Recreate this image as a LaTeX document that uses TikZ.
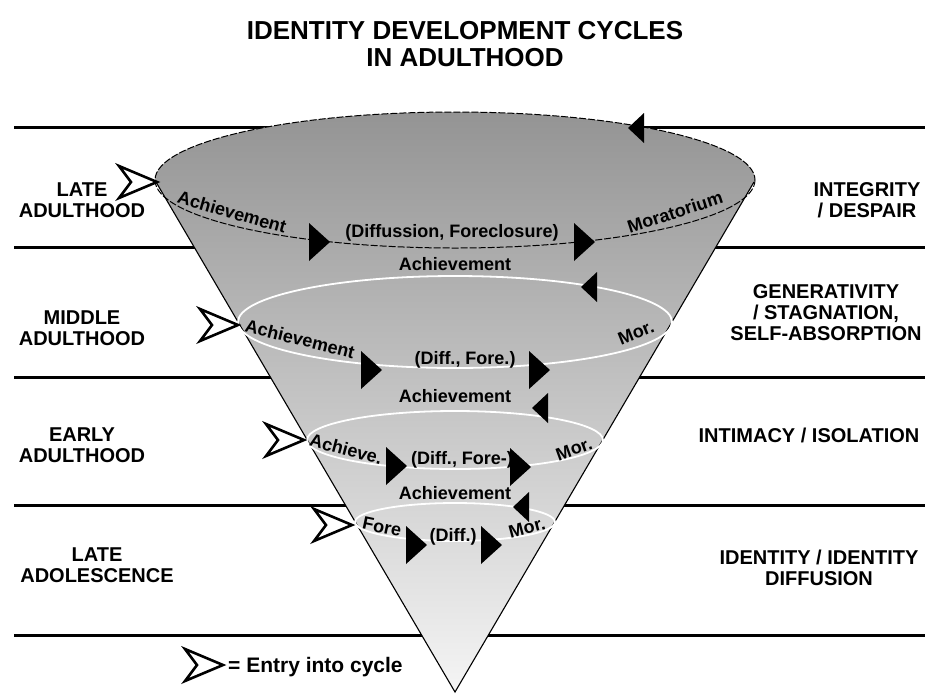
\documentclass[tikz,border=0pt]{standalone}
\usepackage{fontspec}
\setmainfont{Liberation Sans}
\begin{document}
\begin{tikzpicture}[x=1pt,y=-1pt,
  stage/.style={font=\fontsize{20}{21}\selectfont\bfseries, align=center, inner sep=0pt},
  small/.style={font=\fontsize{18}{20}\selectfont\bfseries, inner sep=0pt},
  band/.style={line width=3pt},
  ring/.style={white, line width=1.8pt},
  fwdarrow/.pic={\fill[black] (0,0) -- (-21,-19) -- (-21,19) -- cycle;},
  bwdarrow/.pic={\fill[black] (0,0) -- (16,-15) -- (16,15) -- cycle;},
  entryarrow/.pic={\draw[line width=2.6pt, fill=white, line join=miter] (0,0) -- (-38,-16) -- (-26,0) -- (-38,16) -- cycle;}
]
\useasboundingbox[fill=white] (0,0) rectangle (928,694);

% title
\node[font=\fontsize{26}{27}\selectfont\bfseries, align=center, inner sep=0pt] (title) at (465,44) {IDENTITY DEVELOPMENT CYCLES\\IN ADULTHOOD};

% horizontal bands
\foreach \yy in {127,247,377,505,635} \draw[band] (14,\yy) -- (925,\yy);

% cone
\shade[top color=black!42, bottom color=black!4] (155,180) -- (455,692) -- (755,180) arc[start angle=0, end angle=-180, x radius=300, y radius=68] -- cycle;
\draw[line width=1.1pt] (156,182) -- (455,692) -- (754,182);
\draw[dash pattern=on 7pt off 2pt, line width=1pt] (455,180) ellipse [x radius=300, y radius=68];

% inner cycles
\draw[ring] (455,322) ellipse [x radius=217, y radius=46];
\draw[ring] (455,440) ellipse [x radius=148, y radius=29];
\draw[ring] (455,522) ellipse [x radius=100, y radius=19];

% arrows
\pic at (628,128) {bwdarrow};
\pic at (330,242) {fwdarrow};
\pic at (595,242) {fwdarrow};
\pic at (581,287) {bwdarrow};
\pic at (382,370) {fwdarrow};
\pic at (550,370) {fwdarrow};
\pic at (532,408) {bwdarrow};
\pic at (407,466) {fwdarrow};
\pic at (531,467) {fwdarrow};
\pic at (513,507) {bwdarrow};
\pic at (427,545) {fwdarrow};
\pic at (502,545) {fwdarrow};

% entry arrows
\pic at (157,182) {entryarrow};
\pic at (238,325) {entryarrow};
\pic at (304,440) {entryarrow};
\pic at (352,525) {entryarrow};
\pic at (223,665) {entryarrow};

% cone labels
\node[small, rotate=-16] (a1) at (232,212) {Achievement};
\node[small] (d1) at (452,233) {(Diffussion, Foreclosure)};
\node[small, rotate=18] (m1) at (675,212) {Moratorium};
\node[small] (a1b) at (455,264) {Achievement};
\node[small, rotate=-14] (a2) at (300,339) {Achievement};
\node[small] (d2) at (465,360) {(Diff., Fore.)};
\node[small, rotate=22] (m2) at (636,333) {Mor.};
\node[small] (a2b) at (455,396) {Achievement};
\node[small, rotate=-15] (a3) at (346,449) {Achieve.};
\node[small] (d3) at (462,460) {(Diff., Fore-)};
\node[small, rotate=20] (m3) at (574,449) {Mor.};
\node[small] (a3b) at (455,493) {Achievement};
\node[small, rotate=-12] (f4) at (382,527) {Fore};
\node[small] (d4) at (453,537) {(Diff.)};
\node[small, rotate=15] (m4) at (527,528) {Mor.};

% stage labels
\node[stage] (s1) at (82,200) {LATE\\ADULTHOOD};
\node[stage] (s2) at (82,328) {MIDDLE\\ADULTHOOD};
\node[stage] (s3) at (82,445) {EARLY\\ADULTHOOD};
\node[stage] (s4) at (97,565) {LATE\\ADOLESCENCE};

\node[stage] (c1) at (867,200) {INTEGRITY\\/ DESPAIR};
\node[stage] (c2) at (826,313) {GENERATIVITY\\/ STAGNATION,\\SELF-ABSORPTION};
\node[stage] (c3) at (809,435) {INTIMACY / ISOLATION};
\node[stage] (c4) at (819,568) {IDENTITY / IDENTITY\\DIFFUSION};

% legend
\node[font=\fontsize{21}{22}\selectfont\bfseries, anchor=west, inner sep=0pt] (legend) at (228,667) {= Entry into cycle};
\end{tikzpicture}
\end{document}
